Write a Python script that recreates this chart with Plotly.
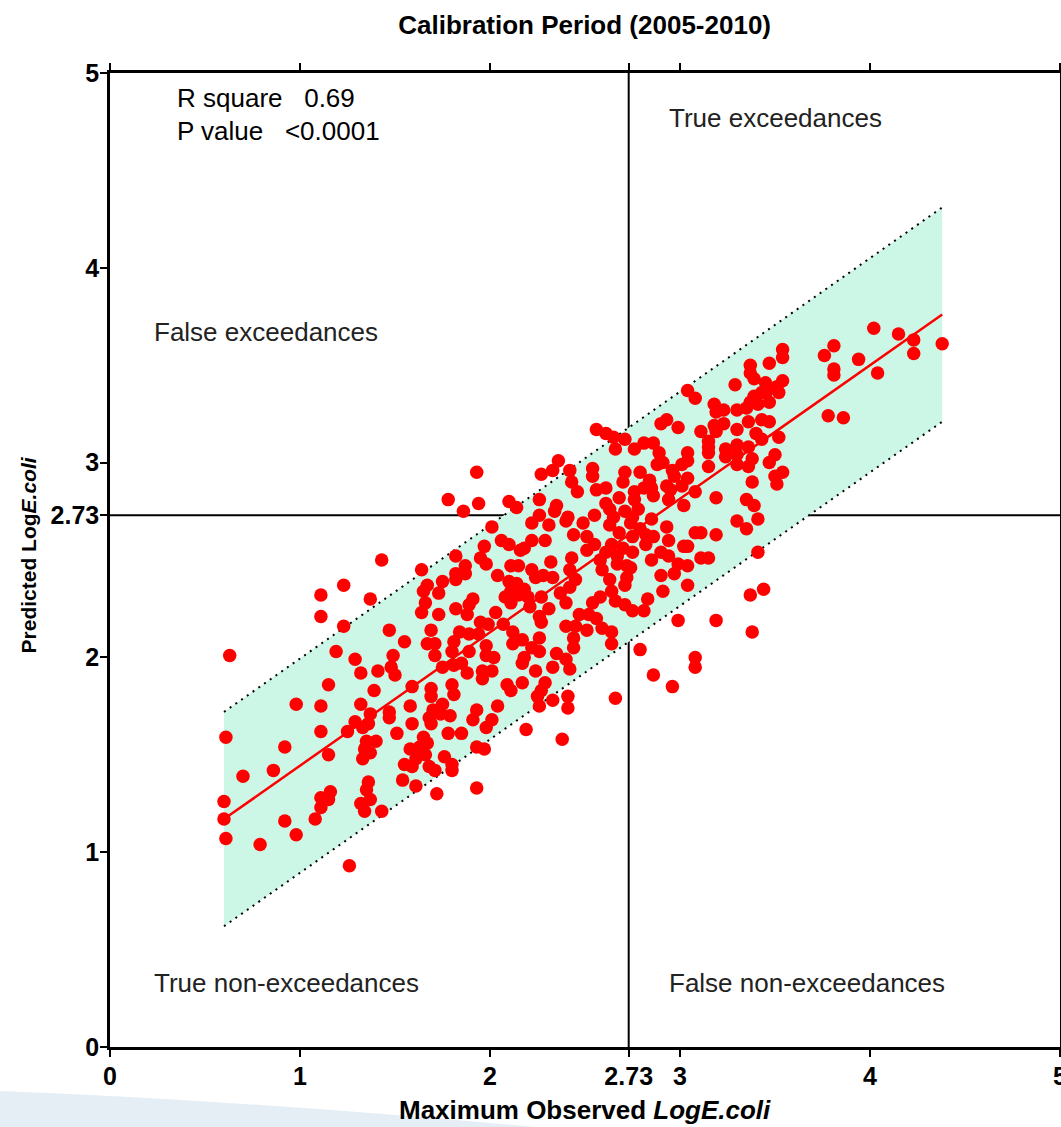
import plotly.graph_objects as go

# ---------------- text / axis data ----------------
title_text = "Calibration Period (2005-2010)"
x_title = "Maximum Observed <i>LogE.coli</i>"
y_title = "Predicted Log<i>E.coli</i>"
tick_vals = [0, 1, 2, 2.73, 3, 4, 5]
tick_text = ["0", "1", "2", "2.73", "3", "4", "5"]
threshold = 2.73
r_square = "0.69"
p_value = "&lt;0.0001"
quadrant_labels = ["True exceedances", "False exceedances", "True non-exceedances", "False non-exceedances"]
quadrant_x = [2.93, 0.22, 0.22, 2.93]
quadrant_y = [4.77, 3.67, 0.33, 0.33]

# regression line and prediction band (observed, predicted)
fit_x = [0.6, 4.38]
fit_y = [1.17, 3.76]
band_upper = [1.72, 4.31]
band_lower = [0.62, 3.21]

# ---------------- scatter data (observed, predicted) ----------------
pts_low = [(1.43,2.50),(1.23,2.37),(1.11,2.32),(1.37,2.30),(1.11,2.21),(1.23,2.16),(1.47,2.14),(0.63,2.01),
           (1.19,2.03),(1.29,1.99),(1.49,2.01),(1.32,1.92),(1.41,1.93),(1.48,1.95),(1.50,1.91),(1.15,1.86),
           (1.39,1.83),(0.98,1.76),(1.11,1.75),(1.32,1.76),(1.47,1.72),(1.47,1.69),(1.37,1.71),(1.29,1.67),
           (1.36,1.66),(1.33,1.64),(1.25,1.62),(1.11,1.62),(1.51,1.61),(0.61,1.59),(0.92,1.54),(1.35,1.57),
           (1.40,1.57),(1.34,1.53),(1.37,1.51),(1.15,1.50),(1.33,1.48),(0.70,1.39),(0.86,1.42),(1.36,1.36),
           (1.35,1.32),(1.37,1.27),(1.16,1.31),(1.11,1.28),(1.15,1.27),(1.11,1.23),(1.32,1.25),(1.34,1.21),
           (1.43,1.21),(0.60,1.26),(0.60,1.17),(0.61,1.07),(0.92,1.16),(1.08,1.17),(0.98,1.09),(0.79,1.04),
           (1.26,0.93)]

pts_mid1 = [(1.93,2.95),(1.78,2.81),(1.94,2.79),(1.86,2.75),(1.97,2.57),(1.82,2.52),(1.95,2.51),(1.98,2.48),
            (1.87,2.47),(1.87,2.43),(1.82,2.43),(1.82,2.40),(1.64,2.45),(1.75,2.39),(1.67,2.37),(1.65,2.34),
            (1.73,2.33),(1.66,2.28),(1.91,2.30),(1.89,2.27),(1.82,2.25),(1.88,2.22),(1.64,2.23),(1.73,2.22),
            (1.95,2.18),(1.99,2.17),(1.69,2.14),(1.84,2.13),(1.89,2.12),(1.94,2.12),(1.55,2.08),(1.67,2.07),
            (1.71,2.07),(1.81,2.08),(1.98,2.06),(1.80,2.03),(1.89,2.03),(1.71,2.01),(1.98,2.01),(1.85,1.97),
            (1.75,1.95),(1.81,1.96),(1.88,1.92),(1.96,1.93),(1.96,1.89),(1.59,1.85),(1.69,1.84),(1.80,1.86),
            (1.69,1.80),(1.81,1.81),(1.75,1.76),(1.58,1.75),(1.70,1.73),(1.74,1.71),(1.79,1.70),(1.68,1.69),
            (1.69,1.66),(1.93,1.73),(1.91,1.68),(1.98,1.64),(1.59,1.66),(1.65,1.59),(1.78,1.61),(1.85,1.61),
            (1.67,1.56),(1.63,1.54),(1.58,1.53),(1.93,1.54),(1.97,1.53),(1.66,1.50),(1.61,1.48),(1.76,1.49),
            (1.55,1.45),(1.59,1.44),(1.68,1.44),(1.71,1.42),(1.80,1.45),(1.80,1.42),(1.54,1.37),(1.61,1.34),
            (1.72,1.30),(1.93,1.33)]

pts_mid2 = [(2.36,3.01),(2.33,2.96),(2.27,2.94),(2.42,2.96),(2.43,2.90),(2.46,2.85),(2.10,2.80),(2.14,2.77),
            (2.26,2.81),(2.35,2.78),(2.34,2.75),(2.26,2.73),(2.22,2.69),(2.31,2.68),(2.40,2.70),(2.41,2.72),
            (2.49,2.69),(2.01,2.67),(2.44,2.63),(2.51,2.62),(2.06,2.60),(2.10,2.58),(2.22,2.60),(2.18,2.56),
            (2.29,2.60),(2.16,2.55),(2.51,2.55),(2.43,2.51),(2.32,2.49),(2.11,2.47),(2.15,2.47),(2.22,2.45),
            (2.04,2.42),(2.24,2.41),(2.28,2.42),(2.33,2.41),(2.42,2.45),(2.45,2.40),(2.42,2.36),(2.10,2.39),
            (2.14,2.38),(2.18,2.35),(2.11,2.34),(2.15,2.32),(2.08,2.31),(2.20,2.31),(2.27,2.31),(2.37,2.33),
            (2.11,2.28),(2.21,2.26),(2.31,2.25),(2.40,2.28),(2.03,2.23),(2.26,2.21),(2.47,2.22),(2.52,2.22),
            (2.27,2.18),(2.07,2.17),(2.12,2.13),(2.40,2.16),(2.45,2.16),(2.51,2.14),(2.26,2.10),(2.44,2.10),
            (2.17,2.09),(2.12,2.07),(2.22,2.05),(2.26,2.03),(2.44,2.05),(2.02,2.00),(2.18,2.00),(2.35,2.02),
            (2.40,1.99),(2.17,1.97),(2.33,1.95),(2.42,1.94),(2.24,1.93),(2.01,1.93),(2.09,1.86),(2.11,1.83),
            (2.17,1.87),(2.29,1.87),(2.27,1.83),(2.25,1.80),(2.33,1.78),(2.26,1.75),(2.41,1.80),(2.41,1.74),
            (2.04,1.75),(2.01,1.68),(2.19,1.63),(2.38,1.58)]

pts_mid3 = [(2.93,3.22),(2.90,3.20),(2.99,3.18),(2.56,3.17),(2.61,3.15),(2.65,3.13),(2.66,3.07),(2.71,3.12),
            (2.81,3.10),(2.86,3.10),(2.76,3.07),(2.89,3.05),(2.91,3.00),(2.88,2.99),(3.04,3.05),(3.04,3.01),
            (3.01,2.99),(2.96,2.96),(2.97,2.93),(2.54,2.97),(2.54,2.93),(2.71,2.95),(2.79,2.95),(2.84,2.91),
            (2.70,2.90),(3.04,2.92),(3.01,2.88),(2.93,2.88),(2.56,2.86),(2.61,2.87),(2.81,2.87),(2.76,2.85),
            (2.85,2.87),(2.95,2.86),(2.68,2.82),(2.86,2.83),(2.94,2.81),(2.76,2.81),(3.02,2.78),(2.61,2.79),
            (2.63,2.76),(2.78,2.76),(2.71,2.75),(2.55,2.73),(2.65,2.72),(2.75,2.72),(2.85,2.71),(2.63,2.68),
            (2.74,2.69),(2.79,2.66),(2.93,2.67),(2.68,2.64),(2.82,2.63),(2.86,2.62),(2.75,2.62),(2.55,2.58),
            (2.64,2.58),(2.94,2.60),(3.02,2.57),(3.04,2.57),(2.82,2.58),(2.70,2.56),(2.75,2.54),(2.90,2.54),
            (2.67,2.52),(2.61,2.54),(2.58,2.50),(2.85,2.50),(2.94,2.52),(2.99,2.48),(3.04,2.47),(2.67,2.48),
            (2.72,2.47),(2.74,2.46),(2.59,2.45),(2.63,2.40),(2.72,2.41),(2.90,2.42),(2.97,2.43),(2.71,2.37),
            (3.04,2.37),(2.91,2.34),(2.64,2.34),(2.58,2.31),(2.66,2.29),(2.71,2.27),(2.83,2.30),(2.54,2.28),
            (2.75,2.24),(2.81,2.24),(2.56,2.20),(2.59,2.15),(2.64,2.13),(2.64,2.07),(2.99,2.19),(2.79,2.04),
            (2.86,1.91),(2.96,1.85),(2.66,1.79),(3.04,3.37)]

pts_high = [(3.54,3.58),(3.54,3.54),(3.47,3.51),(3.37,3.50),(3.37,3.46),(3.39,3.43),(3.29,3.40),(3.45,3.41),
            (3.54,3.42),(3.51,3.39),(3.46,3.37),(3.52,3.36),(3.43,3.36),(3.39,3.34),(3.37,3.31),(3.41,3.30),
            (3.47,3.31),(3.08,3.33),(3.18,3.30),(3.19,3.26),(3.23,3.27),(3.30,3.27),(3.35,3.28),(3.43,3.22),
            (3.47,3.21),(3.36,3.21),(3.23,3.20),(3.18,3.19),(3.19,3.16),(3.11,3.16),(3.30,3.17),(3.40,3.15),
            (3.43,3.12),(3.52,3.13),(3.15,3.11),(3.15,3.08),(3.15,3.05),(3.24,3.07),(3.30,3.09),(3.36,3.08),
            (3.24,3.03),(3.30,3.04),(3.38,3.02),(3.50,3.04),(3.47,3.00),(3.15,2.98),(3.30,2.99),(3.36,2.98),
            (3.50,2.93),(3.54,2.95),(3.51,2.89),(3.38,2.90),(3.08,2.85),(3.19,2.82),(3.35,2.81),(3.39,2.78),
            (3.41,2.71),(3.30,2.70),(3.35,2.66),(3.08,2.64),(3.11,2.64),(3.19,2.63),(3.11,2.51),(3.15,2.51),
            (3.41,2.54),(3.37,2.32),(3.44,2.35),(3.19,2.19),(3.38,2.13),(3.08,2.00),(3.08,1.95)]

pts_top = [(4.02,3.69),(4.15,3.66),(4.23,3.63),(4.38,3.61),(3.81,3.60),(3.76,3.55),(3.94,3.53),(4.23,3.56),
           (3.81,3.48),(3.81,3.45),(4.04,3.46),(3.78,3.24),(3.86,3.23)]

all_pts = pts_low + pts_mid1 + pts_mid2 + pts_mid3 + pts_high + pts_top
observed = [p[0] for p in all_pts]
predicted = [p[1] for p in all_pts]

FONT = "Liberation Sans, Arial, sans-serif"

fig = go.Figure()

# prediction band
fig.add_trace(go.Scatter(x=fit_x, y=band_upper, mode="lines",
                         line=dict(color="black", width=2, dash="2px,5px"),
                         hoverinfo="skip", showlegend=False))
fig.add_trace(go.Scatter(x=fit_x, y=band_lower, mode="lines", fill="tonexty",
                         fillcolor="#ccf7e6",
                         line=dict(color="black", width=2, dash="2px,5px"),
                         hoverinfo="skip", showlegend=False))
# regression line
fig.add_trace(go.Scatter(x=fit_x, y=fit_y, mode="lines",
                         line=dict(color="#ff0000", width=2.5),
                         hoverinfo="skip", showlegend=False))
# points
fig.add_trace(go.Scatter(x=observed, y=predicted, mode="markers",
                         marker=dict(color="#ff0000", size=13.5, line=dict(width=0)),
                         showlegend=False))

# threshold lines (beneath the band)
fig.add_shape(type="line", x0=threshold, x1=threshold, y0=0, y1=5, xref="x", yref="y",
              line=dict(color="black", width=2), layer="below")
fig.add_shape(type="line", x0=0, x1=5, y0=threshold, y1=threshold, xref="x", yref="y",
              line=dict(color="black", width=2), layer="below")

# faint slide swoosh bottom-left
fig.add_shape(type="path", xref="paper", yref="paper", layer="below",
              path="M -0.12,-0.045 Q 0.15,-0.055 0.48,-0.085 L -0.12,-0.085 Z",
              fillcolor="#e6eef5", line=dict(width=0))

annotations = []
for txt, qx, qy in zip(quadrant_labels, quadrant_x, quadrant_y):
    annotations.append(dict(x=qx, y=qy, xref="x", yref="y", text=txt, showarrow=False,
                            xanchor="left", yanchor="middle",
                            font=dict(family=FONT, size=26, color="#222222")))
annotations.append(dict(x=0.34, y=4.87, xref="x", yref="y",
                        text="R square\u00a0\u00a0\u00a0" + r_square, showarrow=False,
                        xanchor="left", yanchor="middle",
                        font=dict(family=FONT, size=26, color="black")))
annotations.append(dict(x=0.34, y=4.70, xref="x", yref="y",
                        text="P value\u00a0\u00a0\u00a0" + p_value, showarrow=False,
                        xanchor="left", yanchor="middle",
                        font=dict(family=FONT, size=26, color="black")))
annotations.append(dict(x=0.5, y=-0.065, xref="paper", yref="paper",
                        text="<b>" + x_title + "</b>", showarrow=False,
                        xanchor="center", yanchor="middle",
                        font=dict(family=FONT, size=26, color="black")))
annotations.append(dict(x=-0.086, y=0.505, xref="paper", yref="paper",
                        text="<b>" + y_title + "</b>", showarrow=False, textangle=-90,
                        xanchor="center", yanchor="middle",
                        font=dict(family=FONT, size=21, color="black")))

axis_common = dict(range=[0, 5], tickvals=tick_vals,
                   ticktext=["<b>" + t + "</b>" for t in tick_text],
                   ticks="outside", ticklen=7, tickwidth=2, tickcolor="black",
                   showline=True, linewidth=2.5, linecolor="black", mirror="ticks",
                   showgrid=False, zeroline=False, automargin=False,
                   ticklabeloverflow="allow")

fig.update_layout(
    width=1061, height=1127,
    margin=dict(l=110, r=1, t=73, b=80, autoexpand=False),
    paper_bgcolor="white", plot_bgcolor="white",
    title=dict(text="<b>" + title_text + "</b>", x=0.551, xref="container", xanchor="center",
               y=1 - 25 / 1127, yref="container", yanchor="middle",
               font=dict(family=FONT, size=26, color="black")),
    xaxis=dict(**axis_common, tickfont=dict(family=FONT, size=25, color="black"),
               ticklabelstandoff=-2),
    yaxis=dict(**axis_common, tickfont=dict(family=FONT, size=25, color="black"),
               ticklabelstandoff=-4),
    annotations=annotations,
    showlegend=False,
    hovermode=False,
)

fig.write_html("out.html", config={"displayModeBar": False})
